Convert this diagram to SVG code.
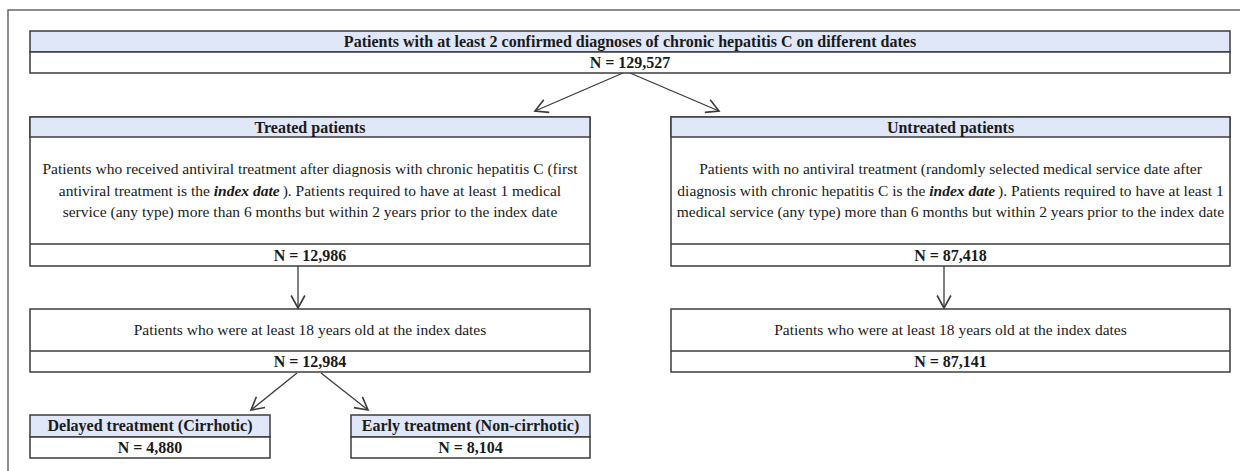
<svg xmlns="http://www.w3.org/2000/svg" width="1240" height="471" viewBox="0 0 1240 471">
<defs>
<style>
.box{fill:#ffffff;stroke:#3c3c3c;stroke-width:1.5}
.hdr{fill:#dfe7f8;stroke:#3c3c3c;stroke-width:1.5}
.sep{stroke:#3c3c3c;stroke-width:1.5}
.t{font-family:"Liberation Serif","Times New Roman",serif;fill:#1a1a1a;text-anchor:middle}
.b{font-weight:bold;font-size:16px}
.r{font-size:15.5px}
.bi{font-weight:bold;font-style:italic}
.conn{stroke:#3c3c3c;stroke-width:1.3;fill:none;marker-end:url(#arr)}
</style>
<marker id="arr" markerUnits="userSpaceOnUse" markerWidth="20" markerHeight="20" refX="0" refY="0" viewBox="-12 -8 14 16" orient="auto">
<path d="M-10,-5.5 L0,0 L-10,5.5" fill="none" stroke="#3c3c3c" stroke-width="1.3"/>
</marker>
</defs>
<rect x="0" y="0" width="1240" height="471" fill="#ffffff"/>
<rect x="8" y="10" width="1260" height="490" fill="none" stroke="#505050" stroke-width="1.3"/>

<g id="connectors">
<line class="conn" x1="623" y1="73" x2="535" y2="111"/>
<line class="conn" x1="630" y1="73" x2="719" y2="111"/>
<line class="conn" x1="298" y1="266" x2="298" y2="308"/>
<line class="conn" x1="944" y1="266" x2="944" y2="308"/>
<line class="conn" x1="297" y1="373" x2="251" y2="410"/>
<line class="conn" x1="321" y1="373" x2="368" y2="410"/>
</g>

<g id="node-all">
<rect class="hdr" x="30" y="31" width="1200" height="21"/>
<rect class="box" x="30" y="52" width="1200" height="21"/>
<text class="t b" x="630" y="47">Patients with at least 2 confirmed diagnoses of chronic hepatitis C on different dates</text>
<text class="t b" x="630" y="68">N = 129,527</text>
</g>

<g id="node-treated">
<rect class="box" x="30" y="117" width="560" height="149"/>
<rect class="hdr" x="30" y="117" width="560" height="20"/>
<line class="sep" x1="30" y1="244" x2="590" y2="244"/>
<text class="t b" x="310" y="132.5">Treated patients</text>
<text class="t r" x="310" y="174">Patients who received antiviral treatment after diagnosis with chronic hepatitis C (first</text>
<text class="t r" x="310" y="195.5">antiviral treatment is the <tspan class="bi">index date</tspan><tspan dx="3">). Patients required to have at least 1 medical</tspan></text>
<text class="t r" x="310" y="217">service (any type) more than 6 months but within 2 years prior to the index date</text>
<text class="t b" x="310" y="260.5">N = 12,986</text>
</g>

<g id="node-untreated">
<rect class="box" x="671" y="117" width="559" height="149"/>
<rect class="hdr" x="671" y="117" width="559" height="20"/>
<line class="sep" x1="671" y1="244" x2="1230" y2="244"/>
<text class="t b" x="950.5" y="132.5">Untreated patients</text>
<text class="t r" x="950.5" y="174">Patients with no antiviral treatment (randomly selected medical service date after</text>
<text class="t r" x="950.5" y="195.5">diagnosis with chronic hepatitis C is the <tspan class="bi">index date</tspan><tspan dx="3">). Patients required to have at least 1</tspan></text>
<text class="t r" x="950.5" y="217">medical service (any type) more than 6 months but within 2 years prior to the index date</text>
<text class="t b" x="950.5" y="260.5">N = 87,418</text>
</g>

<g id="node-treated-adult">
<rect class="box" x="30" y="309" width="560" height="63"/>
<line class="sep" x1="30" y1="351" x2="590" y2="351"/>
<text class="t r" x="310" y="335">Patients who were at least 18 years old at the index dates</text>
<text class="t b" x="310" y="367">N = 12,984</text>
</g>

<g id="node-untreated-adult">
<rect class="box" x="671" y="309" width="559" height="63"/>
<line class="sep" x1="671" y1="351" x2="1230" y2="351"/>
<text class="t r" x="950.5" y="335">Patients who were at least 18 years old at the index dates</text>
<text class="t b" x="950.5" y="367">N = 87,141</text>
</g>

<g id="node-delayed">
<rect class="hdr" x="30" y="415" width="240" height="22"/>
<rect class="box" x="30" y="437" width="240" height="21"/>
<text class="t b" x="150" y="431">Delayed treatment (Cirrhotic)</text>
<text class="t b" x="150" y="453">N = 4,880</text>
</g>

<g id="node-early">
<rect class="hdr" x="351" y="415" width="239" height="22"/>
<rect class="box" x="351" y="437" width="239" height="21"/>
<text class="t b" x="470.5" y="431">Early treatment (Non-cirrhotic)</text>
<text class="t b" x="470.5" y="453">N = 8,104</text>
</g>
</svg>
